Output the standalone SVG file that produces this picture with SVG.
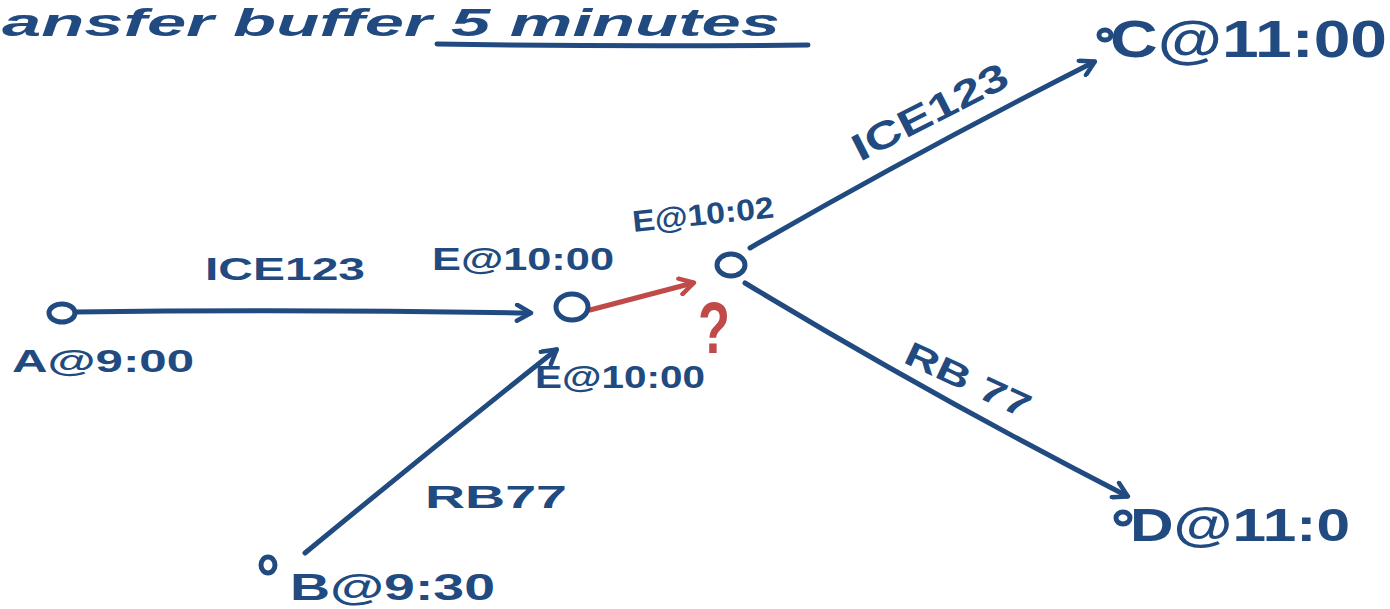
<svg xmlns="http://www.w3.org/2000/svg" width="1390" height="609" viewBox="0 0 1390 609">
<style>
.ink{fill:none;stroke:#214b80;stroke-width:5;stroke-linecap:round;stroke-linejoin:round}
.red{fill:none;stroke:#c04a48;stroke-width:5;stroke-linecap:round;stroke-linejoin:round}
.t{font-family:"Liberation Sans",Arial,sans-serif;font-weight:bold;fill:#214b80}
.tr{font-family:"Liberation Sans",Arial,sans-serif;font-weight:bold;fill:#c04a48}
</style>
<defs>
<marker id="ah" viewBox="0 0 20 20" refX="16" refY="10" markerWidth="20" markerHeight="20" markerUnits="userSpaceOnUse" orient="auto">
<path d="M3,2 L17,10 L3,18" fill="none" stroke="#214b80" stroke-width="4.5" stroke-linecap="round" stroke-linejoin="round"/>
</marker>
<marker id="ahr" viewBox="0 0 20 20" refX="16" refY="10" markerWidth="20" markerHeight="20" markerUnits="userSpaceOnUse" orient="auto">
<path d="M3,2 L17,10 L3,18" fill="none" stroke="#c04a48" stroke-width="4.5" stroke-linecap="round" stroke-linejoin="round"/>
</marker>
</defs>
<rect width="1390" height="609" fill="#ffffff"/>
<g id="title">
<text class="t" x="2" y="36" font-size="38" textLength="778" lengthAdjust="spacingAndGlyphs" font-style="italic">ansfer buffer 5 minutes</text>
<path class="ink" d="M437,44 Q620,47 808,45" stroke-width="6"/>
</g>
<g id="connectors">
<path class="ink" d="M75,312 Q300,309 530,313" marker-end="url(#ah)"/>
<path class="ink" d="M305,553 Q430,450 556,350" marker-end="url(#ah)"/>
<path class="ink" d="M750,248 Q920,150 1094,62" marker-end="url(#ah)"/>
<path class="ink" d="M745,283 Q930,395 1127,496" marker-end="url(#ah)"/>
<path class="red" d="M590,310 L693,283" marker-end="url(#ahr)"/>
</g>
<g id="node-A">
<ellipse class="ink" cx="62" cy="313" rx="13" ry="9"/>
<text class="t" x="12" y="372" font-size="32" textLength="182" lengthAdjust="spacingAndGlyphs">A@9:00</text>
</g>
<g id="node-E1">
<ellipse class="ink" cx="572" cy="307" rx="16" ry="13"/>
<text class="t" x="432" y="270" font-size="32" textLength="182" lengthAdjust="spacingAndGlyphs">E@10:00</text>
</g>
<g id="node-E1b">
<text class="t" x="535" y="388" font-size="32" textLength="170" lengthAdjust="spacingAndGlyphs">E@10:00</text>
</g>
<g id="node-E2">
<ellipse class="ink" cx="731" cy="265" rx="14" ry="11"/>
<text class="t" x="632" y="225" font-size="30" textLength="142" lengthAdjust="spacingAndGlyphs" transform="rotate(-6 700 215)">E@10:02</text>
</g>
<g id="node-B">
<ellipse class="ink" cx="268" cy="565" rx="7" ry="8"/>
<text class="t" x="290" y="600" font-size="37" textLength="205" lengthAdjust="spacingAndGlyphs">B@9:30</text>
</g>
<g id="node-C">
<ellipse class="ink" cx="1105" cy="35" rx="6" ry="5"/>
<text class="t" x="1110" y="57" font-size="52" textLength="277" lengthAdjust="spacingAndGlyphs">C@11:00</text>
</g>
<g id="node-D">
<ellipse class="ink" cx="1123" cy="518" rx="7" ry="6"/>
<text class="t" x="1130" y="541" font-size="46" textLength="220" lengthAdjust="spacingAndGlyphs">D@11:0</text>
</g>
<g id="labels">
<text class="t" x="205" y="280" font-size="32" textLength="160" lengthAdjust="spacingAndGlyphs">ICE123</text>
<text class="t" x="425" y="508" font-size="32" textLength="142" lengthAdjust="spacingAndGlyphs">RB77</text>
<text class="t" x="0" y="0" font-size="38" textLength="170" lengthAdjust="spacingAndGlyphs" transform="translate(860,162) rotate(-27)">ICE123</text>
<text class="t" x="0" y="0" font-size="34" textLength="135" lengthAdjust="spacingAndGlyphs" transform="translate(902,362) rotate(25)">RB 77</text>
<text class="tr" x="698" y="353" font-size="72" textLength="32" lengthAdjust="spacingAndGlyphs">?</text>
</g>
</svg>
